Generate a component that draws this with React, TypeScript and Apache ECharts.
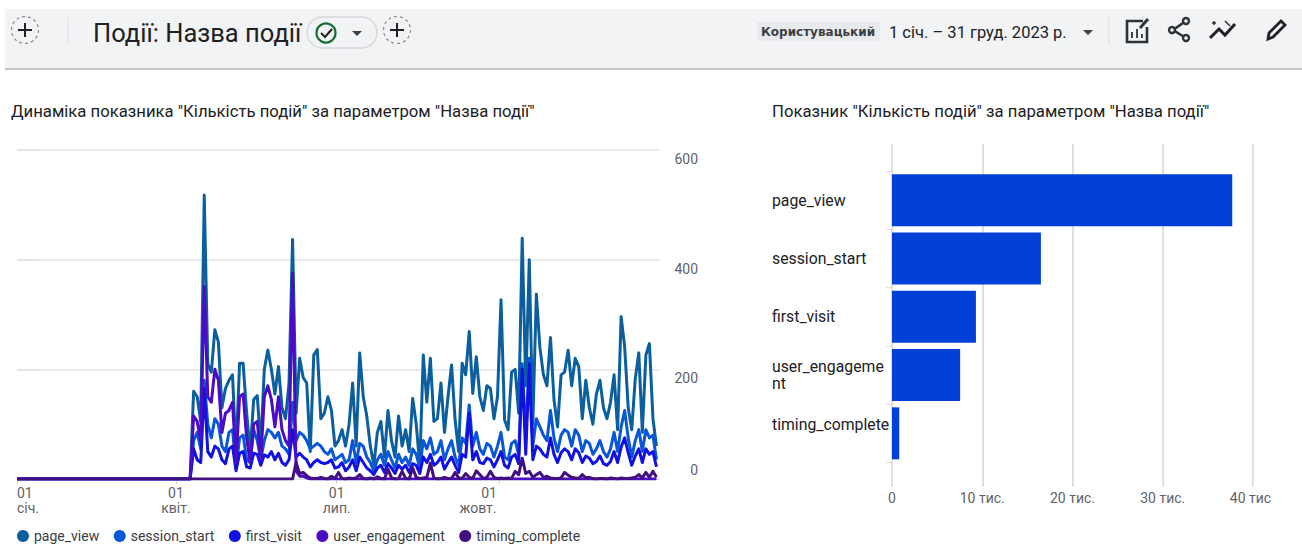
import React, { useEffect, useRef } from "react";
import * as echarts from "echarts";

const FONT = "Roboto, 'Noto Sans', sans-serif";
const firstDay = 98;
const stepDays = 2;
const lastDay = 364;

const seriesNames = ["page_view", "session_start", "first_visit", "user_engagement", "timing_complete"];
const seriesColors = ["#0b5f9e", "#0a56d9", "#1212e0", "#4a0cc4", "#42107f"];

const pageView = [
  0,160,150,105,518,210,195,272,250,130,
  165,180,190,47,211,211,120,50,145,152,
  60,200,235,200,155,205,130,110,175,437,
  120,220,185,175,50,226,236,110,120,150,
  125,60,70,90,60,100,175,60,230,150,
  115,60,25,85,105,40,125,70,40,115,
  60,90,50,147,100,25,226,140,220,105,
  110,175,85,150,208,108,50,211,190,269,
  156,223,150,125,170,165,110,150,327,108,
  90,195,200,120,439,170,400,100,337,240,
  190,170,258,144,95,190,195,235,170,220,
  205,110,180,130,100,155,180,130,110,140,
  190,90,296,241,130,90,183,230,85,226,
  247,110,60,
];
const sessionStart = [
  0,70,85,55,180,100,75,110,100,60,
  50,85,90,20,75,80,35,30,90,70,
  35,70,90,85,75,85,60,55,45,140,
  70,85,80,70,55,60,65,60,50,45,
  55,35,40,45,30,35,70,30,65,60,
  40,30,15,35,45,25,50,35,20,45,
  30,40,25,55,45,20,70,55,75,45,
  50,70,35,55,70,40,25,75,65,135,
  60,85,55,45,65,60,40,60,85,40,
  35,65,70,45,210,75,220,60,110,95,
  80,70,125,75,50,80,90,85,60,90,
  80,50,70,65,45,55,70,50,40,55,
  85,50,95,125,75,40,70,90,50,90,
  75,80,35,
];
const firstVisit = [
  0,55,35,30,165,50,40,60,55,35,
  28,55,60,15,47,50,22,20,47,45,
  25,44,40,50,35,47,30,25,35,90,
  40,47,40,35,22,30,35,30,28,30,
  35,20,22,30,15,22,35,15,40,30,
  20,15,8,20,25,12,28,20,10,25,
  18,25,12,28,25,10,40,30,45,25,
  30,40,18,30,40,25,12,45,40,120,
  35,50,30,28,38,35,22,35,50,25,
  20,40,45,28,200,45,210,35,60,55,
  45,40,75,45,30,48,55,50,35,55,
  48,30,42,38,28,32,42,28,25,32,
  50,30,58,75,48,25,42,55,30,55,
  45,50,22,
];
const userEngagement = [
  0,115,105,70,351,150,140,200,180,85,
  120,125,140,30,150,155,75,30,100,105,
  35,150,170,145,95,150,90,70,60,375,
  15,5,5,2,0,0,0,0,0,0,
  0,0,0,0,0,0,0,0,0,0,
  0,0,0,0,0,0,0,0,0,0,
  0,0,0,0,0,0,0,0,0,0,
  0,0,0,0,0,0,0,0,0,0,
  0,0,0,0,0,0,0,0,0,0,
  0,0,0,0,0,0,0,0,0,0,
  0,0,0,0,0,0,0,0,0,0,
  0,0,0,0,0,0,0,0,0,0,
  0,0,0,0,0,0,0,0,0,0,
  0,0,0,
];
const timingComplete = [
  0,0,0,0,0,0,0,0,0,0,
  0,0,0,0,0,0,0,0,0,0,
  0,0,0,0,0,0,0,0,0,0,
  30,10,12,6,2,1,1,3,1,0,
  5,1,12,1,0,2,1,2,8,1,
  0,2,0,4,1,0,18,2,0,1,
  14,1,0,20,3,1,2,3,29,2,
  0,1,3,1,1,12,2,1,10,3,
  1,15,8,1,3,14,3,1,2,1,
  2,1,14,8,38,10,14,3,8,12,
  3,5,2,1,1,2,12,7,3,2,
  1,8,2,3,1,0,1,1,0,2,
  1,0,2,1,1,2,3,8,2,12,
  3,14,3,
];
const lineValues = [pageView, sessionStart, firstVisit, userEngagement, timingComplete];

const monthTicks = [0, 90, 181, 273];
const monthLabelAnchors = [0, 90, 181, 261];
const monthLabels = ["01\nсіч.", "01\nквіт.", "01\nлип.", "{o|01}\n{m|жовт.}"];

const barCategories = ["page_view", "session_start", "first_visit", "user_engagement", "timing_complete"];
const barLabels = ["page_view", "session_start", "first_visit", "user_engageme\nnt", "timing_complete\n "];
const barValues = [37700, 16500, 9300, 7550, 800];
const barTickLabels = ["0", "10 тис.", "20 тис.", "30 тис.", "{c|40 тис}"];

const DARK = "#202124";
const GREY = "#5f6368";
const GRID = "#e2e3e5";

function dashedPlus(cx: number, cy: number) {
  return [
    { type: "circle", shape: { cx, cy, r: 13.5 }, style: { fill: "none", stroke: "#8a8d90", lineWidth: 1.2, lineDash: [3, 3] } },
    { type: "line", shape: { x1: cx - 7, y1: cy, x2: cx + 7, y2: cy }, style: { stroke: DARK, lineWidth: 2 } },
    { type: "line", shape: { x1: cx, y1: cy - 7, x2: cx, y2: cy + 7 }, style: { stroke: DARK, lineWidth: 2 } },
  ];
}

function toolbar() {
  const stroke = { fill: "none", stroke: "#303336", lineWidth: 2.6 };
  return [
    { type: "rect", shape: { x: 5, y: 9, width: 1297, height: 59 }, style: { fill: "#f1f3f4" } },
    { type: "rect", shape: { x: 5, y: 68, width: 1297, height: 2 }, style: { fill: "#c3c5c7" } },
    ...dashedPlus(25, 30),
    { type: "line", shape: { x1: 68, y1: 17, x2: 68, y2: 44 }, style: { stroke: "#dadce0", lineWidth: 1 } },
    { type: "text", x: 93, y: 33, style: { text: "Події: Назва події", font: `400 25.5px ${FONT}`, fill: "#202124", textVerticalAlign: "middle" } },
    { type: "rect", shape: { x: 307, y: 17, width: 70, height: 31, r: 15.5 }, style: { fill: "#f1f3f4", stroke: "#d6d8db", lineWidth: 1.5 } },
    { type: "circle", shape: { cx: 326, cy: 33, r: 9.5 }, style: { fill: "none", stroke: "#146c2e", lineWidth: 2.2 } },
    { type: "polyline", shape: { points: [[321, 33], [325, 37], [332, 29]] }, style: { fill: "none", stroke: "#202124", lineWidth: 2 } },
    { type: "polygon", shape: { points: [[352, 31], [362, 31], [357, 36]] }, style: { fill: "#3c4043" } },
    ...dashedPlus(397, 30),
    { type: "rect", shape: { x: 757, y: 22, width: 123, height: 19 }, style: { fill: "#e8eaed" } },
    { type: "text", x: 761, y: 32, style: { text: "Користувацький", font: `700 12px 'DejaVu Sans', sans-serif`, fill: "#3c4043", textVerticalAlign: "middle" } },
    { type: "text", x: 889, y: 32, style: { text: "1 січ. – 31 груд. 2023 р.", font: `400 16.5px ${FONT}`, fill: "#202124", textVerticalAlign: "middle" } },
    { type: "polygon", shape: { points: [[1083, 30], [1093, 30], [1088, 35]] }, style: { fill: "#3c4043" } },
    { type: "line", shape: { x1: 1109, y1: 17, x2: 1109, y2: 44 }, style: { stroke: "#dadce0", lineWidth: 1 } },
    { type: "polyline", shape: { points: [[1143, 21], [1127, 21], [1127, 42], [1147, 42], [1147, 27]] }, style: stroke },
    { type: "line", shape: { x1: 1140, y1: 28, x2: 1148, y2: 19 }, style: { stroke: "#303336", lineWidth: 3 } },
    { type: "line", shape: { x1: 1132, y1: 38, x2: 1132, y2: 32 }, style: { stroke: "#303336", lineWidth: 1.8 } },
    { type: "line", shape: { x1: 1137, y1: 38, x2: 1137, y2: 29 }, style: { stroke: "#303336", lineWidth: 1.8 } },
    { type: "line", shape: { x1: 1142, y1: 38, x2: 1142, y2: 34 }, style: { stroke: "#303336", lineWidth: 1.8 } },
    { type: "polyline", shape: { points: [[1186, 21], [1173, 30], [1186, 38]] }, style: stroke },
    { type: "circle", shape: { cx: 1186, cy: 21, r: 3 }, style: { fill: "#f1f3f4", stroke: "#303336", lineWidth: 2.4 } },
    { type: "circle", shape: { cx: 1172, cy: 30, r: 3 }, style: { fill: "#f1f3f4", stroke: "#303336", lineWidth: 2.4 } },
    { type: "circle", shape: { cx: 1186, cy: 38, r: 3 }, style: { fill: "#f1f3f4", stroke: "#303336", lineWidth: 2.4 } },
    { type: "polyline", shape: { points: [[1210, 38], [1219, 29], [1225, 35], [1235, 24]] }, style: { fill: "none", stroke: "#202124", lineWidth: 3 } },
    { type: "line", shape: { x1: 1212, y1: 23, x2: 1216, y2: 23 }, style: { stroke: "#303336", lineWidth: 1.5 } },
    { type: "line", shape: { x1: 1214, y1: 21, x2: 1214, y2: 25 }, style: { stroke: "#303336", lineWidth: 1.5 } },
    { type: "line", shape: { x1: 1225, y1: 21, x2: 1230, y2: 26 }, style: { stroke: "#303336", lineWidth: 1.5 } },
    { type: "polygon", shape: { points: [[1268, 39], [1269, 33], [1281, 21], [1285, 25], [1273, 37]] }, style: { fill: "none", stroke: "#202124", lineWidth: 2.8 } },
  ];
}

export default function App() {
  const ref = useRef<HTMLDivElement>(null);
  useEffect(() => {
    const chart = echarts.init(ref.current!, undefined, { renderer: "svg" });
    const axisFont = { fontFamily: FONT, fontSize: 14, color: GREY };
    chart.setOption({
      animation: false,
      backgroundColor: "#ffffff",
      textStyle: { fontFamily: FONT },
      title: [
        { text: 'Динаміка показника "Кількість подій" за параметром "Назва події"', left: 11, top: 103, padding: 0, textStyle: { fontFamily: FONT, fontSize: 16.7, fontWeight: 400, color: DARK } },
        { text: 'Показник "Кількість подій" за параметром "Назва події"', left: 772, top: 103, padding: 0, textStyle: { fontFamily: FONT, fontSize: 16.7, fontWeight: 400, color: DARK } },
      ],
      legend: {
        data: seriesNames,
        left: 17,
        top: 529,
        padding: 0,
        icon: "circle",
        itemWidth: 12,
        itemHeight: 12,
        itemGap: 14.5,
        textStyle: { fontFamily: FONT, fontSize: 14, lineHeight: 12, color: "#3c4043" },
      },
      grid: [
        { left: 17, right: 1302 - 660, top: 150, height: 329 },
        { left: 892, right: 1302 - 1253, top: 171, height: 291.5 },
        { left: 892, right: 1302 - 1253, top: 144, height: 343 },
      ],
      xAxis: [
        {
          type: "value",
          gridIndex: 0,
          min: 0,
          max: lastDay,
          splitLine: { show: false },
          axisLine: { show: true, lineStyle: { color: GRID } },
          axisTick: { show: true, length: 5, customValues: monthTicks, lineStyle: { color: "#d4d6d9" } },
          axisLabel: {
            ...axisFont,
            customValues: monthLabelAnchors,
            alignMinLabel: "left",
            lineHeight: 15,
            margin: 6,
            formatter: (v: number) => monthLabels[monthLabelAnchors.indexOf(v)] ?? "",
            rich: {
              o: { ...axisFont, lineHeight: 15, padding: [0, 0, 0, 22] },
              m: { ...axisFont, lineHeight: 15 },
            },
          },
        },
        { type: "value", gridIndex: 1, min: 0, max: 40000, show: false },
        {
          type: "value",
          gridIndex: 2,
          min: 0,
          max: 40000,
          interval: 10000,
          splitLine: { show: true, lineStyle: { color: "#e0e0e0", width: 2 } },
          axisLine: { show: false },
          axisTick: { show: false },
          axisLabel: {
            ...axisFont,
            margin: 4,
            hideOverlap: false,
            formatter: (v: number) => barTickLabels[v / 10000],
            rich: { c: { ...axisFont, padding: [0, 5, 0, 0] } },
          },
        },
      ],
      yAxis: [
        {
          type: "value",
          gridIndex: 0,
          position: "right",
          min: 0,
          max: 600,
          interval: 200,
          splitLine: { show: true, lineStyle: { color: GRID, width: 1.5 } },
          axisLine: { show: false },
          axisTick: { show: true, length: 20, lineStyle: { color: GRID, width: 1.5 } },
          axisLabel: {
            ...axisFont,
            align: "right",
            margin: 38,
            formatter: (v: number) => (v === 0 ? "{z|0}" : `{t|${v}}`),
            rich: {
              t: { ...axisFont, padding: [18, 0, 0, 0] },
              z: { ...axisFont, padding: [0, 0, 18, 0] },
            },
          },
        },
        {
          type: "category",
          gridIndex: 1,
          inverse: true,
          data: barCategories,
          axisLine: { show: false },
          axisTick: { show: true, length: 6, lineStyle: { color: "#dddfe1" } },
          axisLabel: {
            fontFamily: FONT,
            fontSize: 15.8,
            color: DARK,
            align: "left",
            margin: 120,
            lineHeight: 17,
            formatter: (v: string) => barLabels[barCategories.indexOf(v)],
          },
        },
        { type: "value", gridIndex: 2, min: 0, max: 1, show: false },
      ],
      series: [
        ...seriesNames.map((name, k) => ({
          name,
          type: "line",
          xAxisIndex: 0,
          yAxisIndex: 0,
          symbol: "none",
          color: seriesColors[k],
          lineStyle: { width: 3, color: seriesColors[k], join: "round" },
          z: 3 + k,
          data: [[0, 0], ...lineValues[k].map((v, i) => [firstDay + i * stepDays, v])],
        })),
        {
          name: "Кількість подій",
          type: "bar",
          xAxisIndex: 1,
          yAxisIndex: 1,
          barWidth: 52,
          itemStyle: { color: "#0340d8" },
          data: barValues,
          z: 3,
        },
      ],
      graphic: { elements: toolbar() },
    });
    return () => chart.dispose();
  }, []);
  return <div ref={ref} style={{ position: "fixed", left: 0, top: 0, width: 1302, height: 545 }} />;
}
